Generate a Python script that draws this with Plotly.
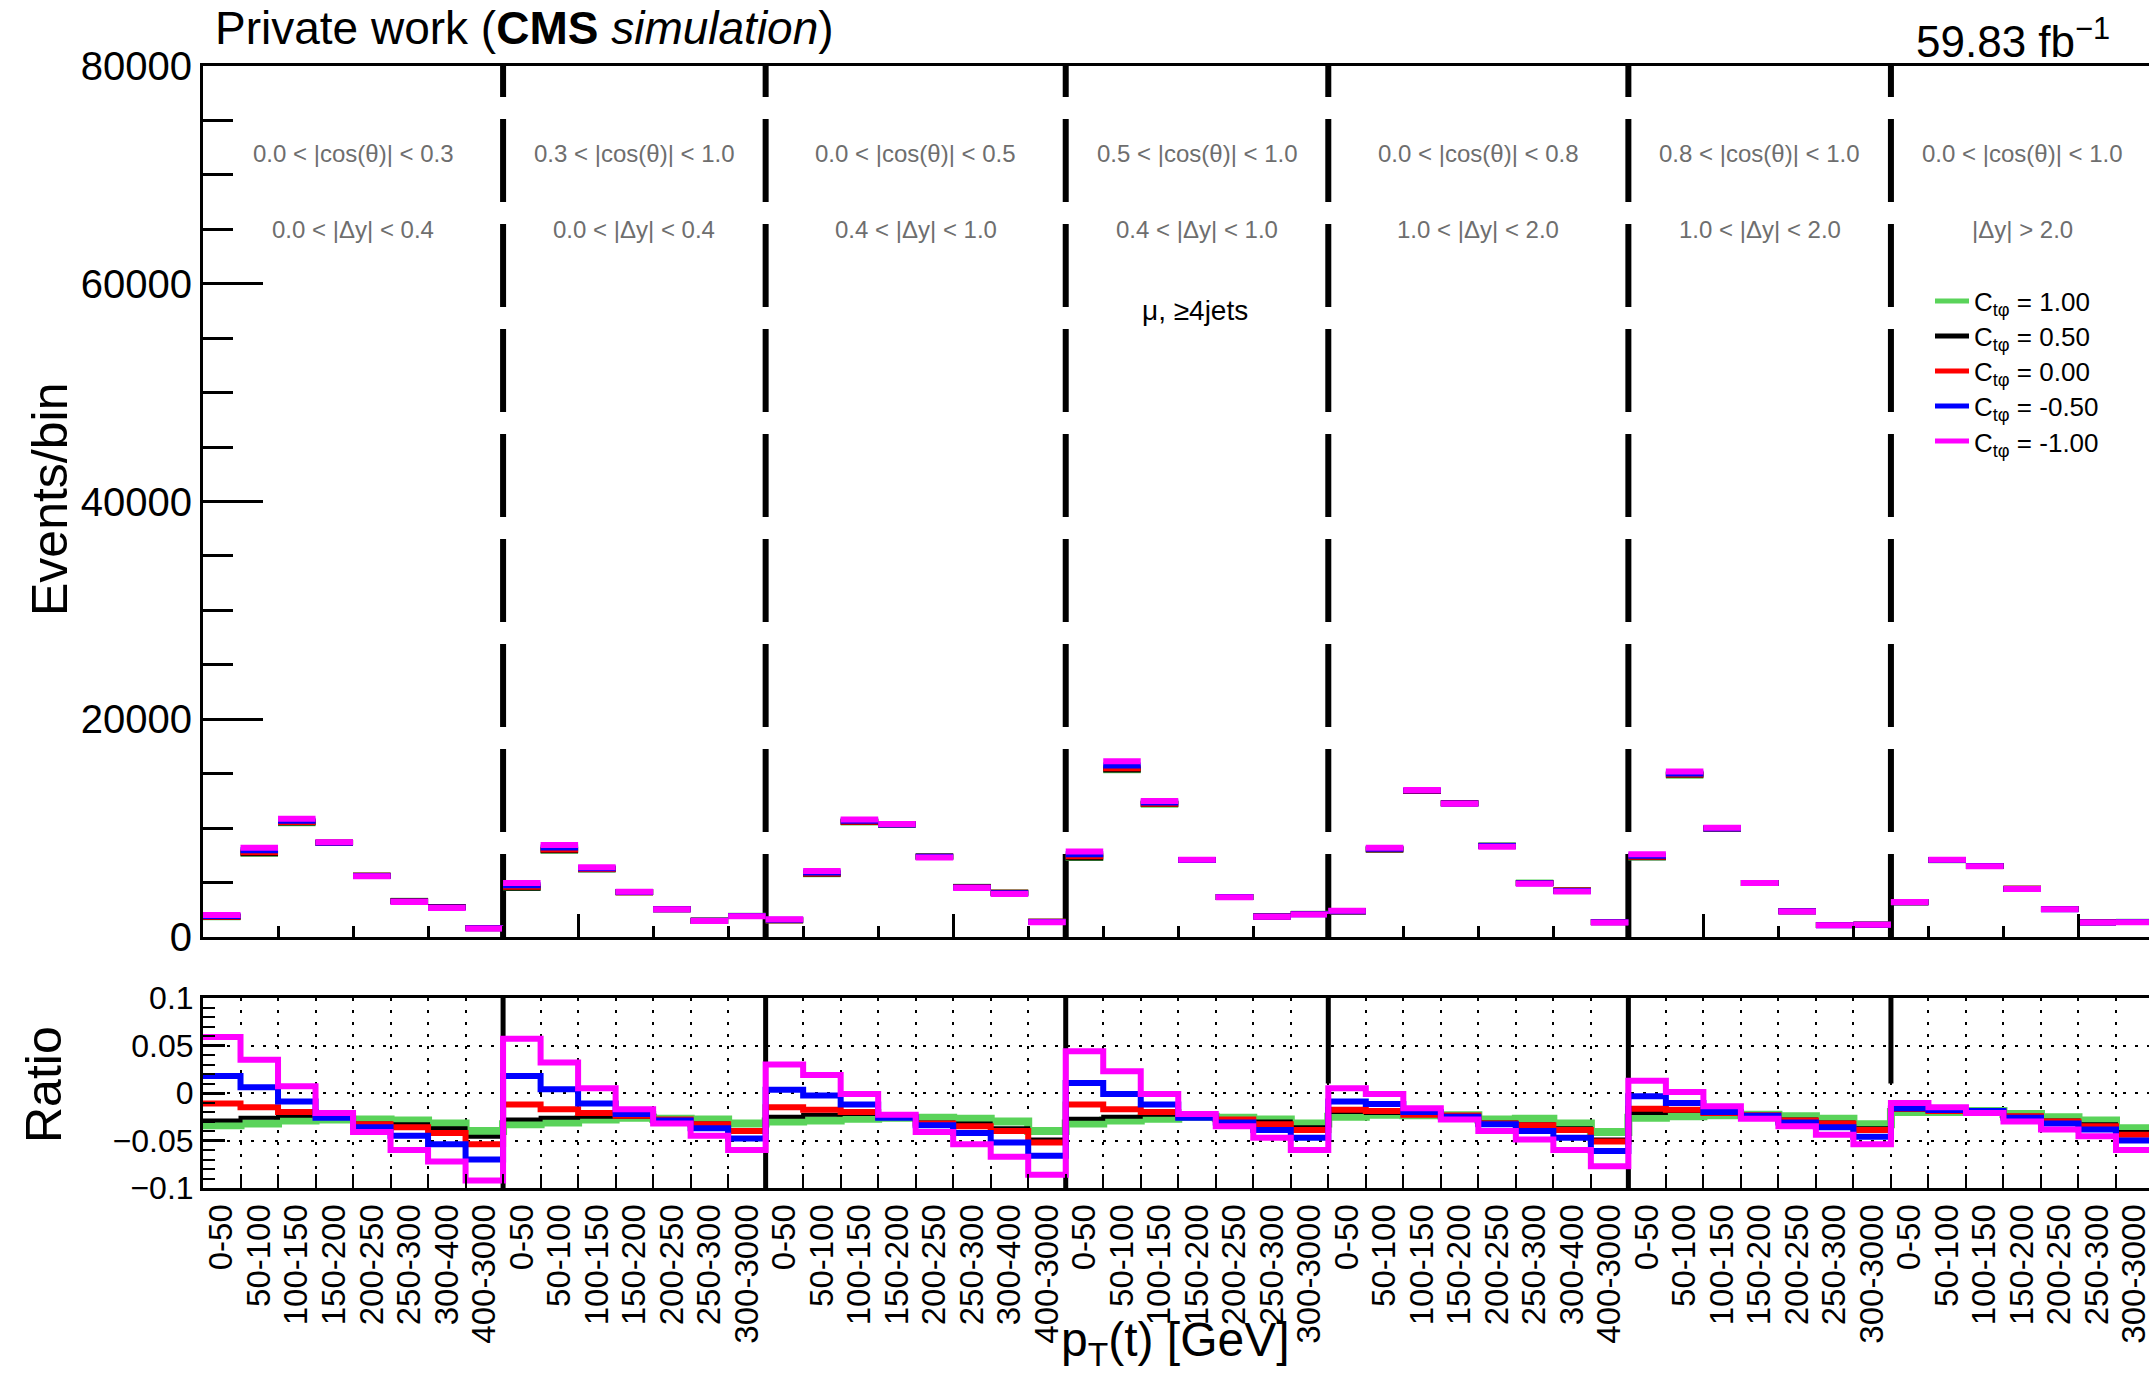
import plotly.graph_objects as go

W, H = 2149, 1376

# ---------------- data ----------------
group_sizes = [8, 7, 8, 7, 8, 7, 7]
cos_labels = ["0.0 < |cos(θ)| < 0.3", "0.3 < |cos(θ)| < 1.0", "0.0 < |cos(θ)| < 0.5",
              "0.5 < |cos(θ)| < 1.0", "0.0 < |cos(θ)| < 0.8", "0.8 < |cos(θ)| < 1.0",
              "0.0 < |cos(θ)| < 1.0"]
dy_labels = ["0.0 < |Δy| < 0.4", "0.0 < |Δy| < 0.4", "0.4 < |Δy| < 1.0", "0.4 < |Δy| < 1.0",
             "1.0 < |Δy| < 2.0", "1.0 < |Δy| < 2.0", "|Δy| > 2.0"]

bins8 = ["0-50", "50-100", "100-150", "150-200", "200-250", "250-300", "300-400", "400-3000"]
bins7 = ["0-50", "50-100", "100-150", "150-200", "200-250", "250-300", "300-3000"]
pt_labels = bins8 + bins7 + bins8 + bins7 + bins8 + bins7 + bins7

series_names = ["C<sub>tφ</sub> = 1.00", "C<sub>tφ</sub> = 0.50", "C<sub>tφ</sub> = 0.00",
                "C<sub>tφ</sub> = -0.50", "C<sub>tφ</sub> = -1.00"]
series_colors = ["#5ad35a", "#000000", "#ff0000", "#0000ff", "#ff00ff"]

events_p100 = [1823, 7651, 10459, 8639, 5642, 3320, 2766, 821,
               4505, 7918, 6198, 4113, 2563, 1505, 1953,
               1523, 5769, 10519, 10339, 7420, 4622, 4096, 1412,
               7263, 15310, 12156, 7079, 3683, 1895, 2128,
               2338, 8020, 13399, 12285, 8400, 4998, 4297, 1378,
               7294, 14812, 9935, 4970, 2375, 1098, 1138,
               3189, 7055, 6513, 4435, 2573, 1352, 1391]
events_p050 = [1833, 7700, 10514, 8665, 5620, 3307, 2753, 816,
               4529, 7960, 6218, 4117, 2560, 1499, 1940,
               1531, 5805, 10573, 10339, 7383, 4599, 4069, 1400,
               7302, 15375, 12205, 7072, 3672, 1892, 2120,
               2350, 8036, 13406, 12279, 8375, 4968, 4276, 1367,
               7332, 14896, 9960, 4967, 2366, 1094, 1134,
               3197, 7062, 6510, 4426, 2564, 1347, 1386]
events_000 = [1869, 7790, 10557, 8674, 5615, 3297, 2740, 810,
              4608, 8036, 6243, 4121, 2560, 1498, 1938,
              1547, 5839, 10595, 10349, 7376, 4586, 4057, 1396,
              7420, 15504, 12243, 7079, 3676, 1886, 2113,
              2356, 8052, 13406, 12281, 8366, 4963, 4268, 1365,
              7366, 14919, 9960, 4967, 2364, 1093, 1132,
              3201, 7062, 6510, 4424, 2562, 1344, 1382]
events_m050 = [1928, 7962, 10676, 8657, 5598, 3268, 2708, 797,
               4757, 8213, 6307, 4129, 2558, 1492, 1923,
               1577, 5930, 10681, 10339, 7361, 4554, 4009, 1377,
               7597, 15762, 12343, 7072, 3665, 1875, 2097,
               2376, 8114, 13446, 12267, 8358, 4934, 4234, 1351,
               7465, 15025, 9970, 4965, 2359, 1089, 1124,
               3202, 7069, 6513, 4418, 2557, 1339, 1374]
events_m100 = [2010, 8200, 10850, 8700, 5570, 3220, 2660, 780,
               4950, 8450, 6410, 4150, 2550, 1480, 1900,
               1620, 6060, 10800, 10370, 7310, 4500, 3950, 1350,
               7860, 16150, 12480, 7100, 3650, 1860, 2070,
               2410, 8200, 13500, 12230, 8300, 4890, 4180, 1330,
               7590, 15200, 10030, 4950, 2350, 1080, 1115,
               3220, 7090, 6500, 4400, 2540, 1330, 1360]

ratio_p100 = [-0.034, -0.032, -0.029, -0.028, -0.028, -0.029, -0.032, -0.040,
              -0.033, -0.031, -0.028, -0.026, -0.027, -0.028, -0.032,
              -0.030, -0.029, -0.027, -0.026, -0.026, -0.027, -0.030, -0.040,
              -0.032, -0.029, -0.027, -0.025, -0.026, -0.028, -0.032,
              -0.025, -0.023, -0.0235, -0.0235, -0.028, -0.027, -0.032, -0.041,
              -0.026, -0.0245, -0.0235, -0.023, -0.0245, -0.027, -0.033,
              -0.020, -0.020, -0.019, -0.022, -0.0255, -0.029, -0.037]
ratio_p050 = [-0.029, -0.026, -0.024, -0.025, -0.032, -0.033, -0.037, -0.046,
              -0.028, -0.026, -0.025, -0.025, -0.028, -0.032, -0.039,
              -0.025, -0.023, -0.022, -0.026, -0.031, -0.032, -0.037, -0.049,
              -0.027, -0.025, -0.023, -0.026, -0.029, -0.030, -0.036,
              -0.020, -0.021, -0.023, -0.024, -0.031, -0.033, -0.037, -0.049,
              -0.021, -0.019, -0.021, -0.0235, -0.028, -0.031, -0.037,
              -0.0175, -0.019, -0.0195, -0.024, -0.029, -0.033, -0.041]
ratio_000 = [-0.011, -0.015, -0.020, -0.024, -0.033, -0.036, -0.042, -0.054,
             -0.012, -0.017, -0.021, -0.024, -0.028, -0.033, -0.040,
             -0.015, -0.0175, -0.020, -0.025, -0.032, -0.035, -0.040, -0.052,
             -0.012, -0.017, -0.020, -0.025, -0.028, -0.033, -0.039,
             -0.0175, -0.019, -0.023, -0.0238, -0.032, -0.034, -0.039, -0.051,
             -0.0165, -0.0175, -0.021, -0.0235, -0.029, -0.032, -0.039,
             -0.0165, -0.019, -0.0195, -0.0245, -0.030, -0.035, -0.044]
ratio_m050 = [0.018, 0.006, -0.009, -0.026, -0.036, -0.045, -0.054, -0.070,
              0.018, 0.004, -0.011, -0.022, -0.029, -0.037, -0.048,
              0.0035, -0.0025, -0.012, -0.026, -0.034, -0.042, -0.052, -0.066,
              0.0105, -0.001, -0.012, -0.026, -0.031, -0.039, -0.047,
              -0.009, -0.0115, -0.020, -0.025, -0.033, -0.040, -0.047, -0.061,
              -0.0035, -0.0105, -0.020, -0.024, -0.031, -0.036, -0.046,
              -0.016, -0.018, -0.019, -0.026, -0.032, -0.0385, -0.050]
ratio_m100 = [0.059, 0.035, 0.007, -0.021, -0.041, -0.060, -0.072, -0.092,
              0.057, 0.032, 0.005, -0.017, -0.032, -0.045, -0.060,
              0.030, 0.019, -0.001, -0.023, -0.041, -0.054, -0.067, -0.086,
              0.044, 0.023, -0.001, -0.022, -0.035, -0.047, -0.060,
              0.005, -0.001, -0.016, -0.028, -0.040, -0.049, -0.060, -0.077,
              0.013, 0.001, -0.014, -0.027, -0.035, -0.044, -0.054,
              -0.0105, -0.015, -0.021, -0.030, -0.0385, -0.0455, -0.060]

events = [events_p100, events_p050, events_000, events_m050, events_m100]
ratios = [ratio_p100, ratio_p050, ratio_000, ratio_m050, ratio_m100]

# ---------------- helpers ----------------
def px(x):
    return x / W

def py(y):
    return 1 - y / H

nbins = len(pt_labels)
edges = list(range(nbins + 1))
centers = [k + 0.5 for k in range(nbins)]
dividers = []
acc = 0
for g in group_sizes[:-1]:
    acc += g
    dividers.append(acc)
group_lo = [0] + dividers
group_hi = dividers + [nbins]
group_centers = [(a + b) / 2 for a, b in zip(group_lo, group_hi)]

FONT = "Liberation Sans, Arial, sans-serif"
ratio_widths = [8, 4, 6, 6, 6]

fig = go.Figure()

# top panel: horizontal histogram levels
for vals, col in zip(events, series_colors):
    xs, ys = [], []
    for k, v in enumerate(vals):
        xs += [edges[k], edges[k + 1], None]
        ys += [v, v, None]
    fig.add_trace(go.Scatter(x=xs, y=ys, mode="lines", line=dict(color=col, width=6),
                             xaxis="x", yaxis="y", showlegend=False, hoverinfo="skip"))

# ratio panel: step lines
for vals, col, w in zip(ratios, series_colors, ratio_widths):
    fig.add_trace(go.Scatter(x=edges, y=list(vals) + [vals[-1]], mode="lines",
                             line=dict(color=col, width=w, shape="hv"),
                             xaxis="x2", yaxis="y2", showlegend=False, hoverinfo="skip"))

XR = [0, 51.88]
xdom = [px(203), 1.0]

fig.update_layout(
    width=W, height=H,
    margin=dict(l=0, r=0, t=0, b=0, autoexpand=False),
    paper_bgcolor="white", plot_bgcolor="white",
    font=dict(family=FONT, color="black"),
    xaxis=dict(domain=xdom, range=XR, anchor="y", automargin=False, showline=True,
               linecolor="black", linewidth=3, mirror=True, ticks="inside",
               tickmode="linear", tick0=0, dtick=10, ticklen=23, tickwidth=3,
               tickcolor="black", showticklabels=False, showgrid=False, zeroline=False,
               minor=dict(ticks="inside", tick0=0, dtick=2, ticklen=11, tickwidth=3,
                          tickcolor="black", showgrid=False)),
    yaxis=dict(domain=[py(937), py(66)], range=[0, 80000], anchor="x", automargin=False,
               showline=True, linecolor="black", linewidth=3, ticks="inside",
               tickmode="linear", tick0=0, dtick=20000, tickformat="d", ticklen=60,
               tickwidth=3, tickcolor="black", tickfont=dict(size=40), showgrid=False,
               zeroline=False,
               minor=dict(ticks="inside", tick0=0, dtick=5000, ticklen=30, tickwidth=3,
                          tickcolor="black", showgrid=False)),
    xaxis2=dict(domain=xdom, range=XR, anchor="y2", automargin=False, showline=True,
                linecolor="black", linewidth=3, mirror=True, ticks="", tickmode="array",
                tickvals=centers, ticktext=pt_labels, tickangle=-90, tickfont=dict(size=33),
                ticklabeloverflow="allow", showgrid=False, zeroline=False,
                minor=dict(tickmode="array", tickvals=edges[1:], ticks="inside", ticklen=14,
                           tickwidth=2, tickcolor="black", showgrid=True, gridcolor="black",
                           griddash="3px,9px", gridwidth=2)),
    yaxis2=dict(domain=[py(1188), py(998)], range=[-0.1, 0.1], anchor="x2",
                automargin=False, showline=True, linecolor="black", linewidth=3,
                ticks="inside", tickmode="linear", tick0=0, dtick=0.05, ticklen=22,
                tickwidth=3, tickcolor="black", tickfont=dict(size=32), showgrid=True,
                gridcolor="black", griddash="3px,9px", gridwidth=2, zeroline=False,
                minor=dict(ticks="inside", tick0=0, dtick=0.01, ticklen=12, tickwidth=2,
                           tickcolor="black", showgrid=False)),
)

shapes = []
for d in dividers:
    shapes.append(dict(type="line", xref="x", yref="y", x0=d, x1=d, y0=0, y1=80000,
                       line=dict(color="black", width=6, dash="83px,22px"), layer="between"))
ratio_div_low = [-0.1, -0.1, -0.1, 0.01, -0.1, 0.01]
for d, lo in zip(dividers, ratio_div_low):
    shapes.append(dict(type="line", xref="x2", yref="y2", x0=d, x1=d, y0=lo, y1=0.1,
                       line=dict(color="black", width=5), layer="between"))

# legend samples
leg_y = [301, 336, 371, 406, 441]
for yy, col in zip(leg_y, series_colors):
    shapes.append(dict(type="line", xref="paper", yref="paper", x0=px(1935), x1=px(1969),
                       y0=py(yy), y1=py(yy), line=dict(color=col, width=5)))
fig.update_layout(shapes=shapes)

ann = []
gray = "#6e6e6e"
for c, t1, t2 in zip(group_centers, cos_labels, dy_labels):
    ann.append(dict(x=c, y=py(153), xref="x", yref="paper", text=t1, showarrow=False,
                    font=dict(size=24, color=gray), xanchor="center", yanchor="middle"))
    ann.append(dict(x=c, y=py(230), xref="x", yref="paper", text=t2, showarrow=False,
                    font=dict(size=24, color=gray), xanchor="center", yanchor="middle"))
ann.append(dict(x=px(1195), y=py(310), xref="paper", yref="paper", text="μ, ≥4jets",
                showarrow=False, font=dict(size=28), xanchor="center", yanchor="middle"))
for yy, name in zip(leg_y, series_names):
    ann.append(dict(x=px(1972), y=py(yy + 3), xref="paper", yref="paper", text=name,
                    showarrow=False, font=dict(size=26), xanchor="left", yanchor="middle"))
ann.append(dict(x=px(213), y=py(28), xref="paper", yref="paper",
                text="Private work (<b>CMS</b> <i>simulation</i>)", showarrow=False,
                font=dict(size=46), xanchor="left", yanchor="middle"))
ann.append(dict(x=px(2112), y=py(39), xref="paper", yref="paper",
                text="59.83 fb<sup>−1</sup>", showarrow=False,
                font=dict(size=44), xanchor="right", yanchor="middle"))
ann.append(dict(x=px(50), y=py(500), xref="paper", yref="paper", text="Events/bin",
                showarrow=False, textangle=-90, font=dict(size=50),
                xanchor="center", yanchor="middle"))
ann.append(dict(x=px(44), y=py(1085), xref="paper", yref="paper", text="Ratio",
                showarrow=False, textangle=-90, font=dict(size=50),
                xanchor="center", yanchor="middle"))
ann.append(dict(x=px(1292), y=py(1343), xref="paper", yref="paper",
                text="p<sub>T</sub>(t) [GeV]", showarrow=False, font=dict(size=48),
                xanchor="right", yanchor="middle"))
fig.update_layout(annotations=ann)

fig.write_html("out.html")
